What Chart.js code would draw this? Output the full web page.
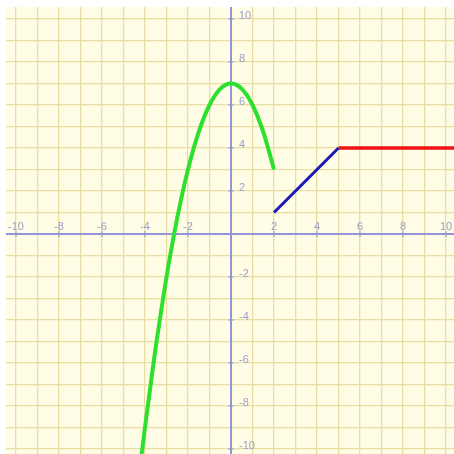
<!DOCTYPE html>
<html>
<head>
<meta charset="utf-8">
<script src="https://cdn.jsdelivr.net/npm/chart.js@4/dist/chart.umd.min.js"></script>
<style>
  html, body { margin: 0; padding: 0; background: #ffffff; }
  #graph { display: block; }
</style>
</head>
<body>
<canvas id="graph" width="454" height="454"></canvas>
<script>
// piecewise function
const greenX = [-4.2, -4, -3.75, -3.5, -3.25, -3, -2.5, -2, -1.5, -1, -0.5, 0, 0.5, 1, 1.5, 2];
const greenY = [-10.6, -9, -7.1, -5.25, -3.6, -2, 0.75, 3, 4.75, 6, 6.75, 7, 6.75, 6, 4.75, 3];
const blueX = [2, 5];
const blueY = [1, 4];
const redX = [5, 10.6];
const redY = [4, 4];

const xLabels = [-10, -8, -6, -4, -2, 2, 4, 6, 8, 10];
const yLabels = [10, 8, 6, 4, 2, -2, -4, -6, -8, -10];

function toPoints(xs, ys) {
    return xs.map((x, i) => ({ x: x, y: ys[i] }));
}

// cream paper behind the grid
const paperPlugin = {
    id: "paper",
    beforeDraw(chart) {
        const { ctx, chartArea } = chart;
        ctx.save();
        ctx.fillStyle = "#fffde6";
        ctx.fillRect(chartArea.left, chartArea.top, chartArea.right - chartArea.left, chartArea.bottom - chartArea.top);
        ctx.restore();
    }
};

// axes through the origin with their labels
const axesPlugin = {
    id: "centerAxes",
    beforeDatasetsDraw(chart) {
        const { ctx, chartArea, scales } = chart;
        const x0 = Math.round(scales.x.getPixelForValue(0));
        const y0 = Math.round(scales.y.getPixelForValue(0));
        ctx.save();
        ctx.fillStyle = "#9494d8";
        ctx.fillRect(chartArea.left, y0 - 1, chartArea.right - chartArea.left, 2);
        ctx.fillRect(x0 - 1, chartArea.top, 2, chartArea.bottom - chartArea.top);

        ctx.strokeStyle = "#9494d8";
        ctx.fillStyle = "#9c9cc8";
        ctx.font = "11px 'Liberation Sans', Arial, sans-serif";
        ctx.lineWidth = 1;
        ctx.textAlign = "center";
        ctx.textBaseline = "middle";
        xLabels.forEach(v => {
            const px = scales.x.getPixelForValue(v);
            ctx.beginPath();
            ctx.moveTo(px, y0 - 3);
            ctx.lineTo(px, y0 + 3);
            ctx.stroke();
            ctx.fillText(String(v), px, y0 - 7);
        });
        ctx.textAlign = "left";
        yLabels.forEach(v => {
            const py = scales.y.getPixelForValue(v);
            ctx.beginPath();
            ctx.moveTo(x0 - 3, py);
            ctx.lineTo(x0 + 3, py);
            ctx.stroke();
            ctx.fillText(String(v), x0 + 8, py - 3);
        });
        ctx.restore();
    }
};

const gridScale = (min, max) => ({
    type: "linear",
    min: min,
    max: max,
    ticks: { display: false, stepSize: 1, includeBounds: false },
    grid: {
        // no paper line under the axis itself
        color: c => (c.tick && Math.abs(c.tick.value) < 1e-9 ? "rgba(0,0,0,0)" : "#e8dda2"),
        lineWidth: 1.3,
        drawTicks: false
    },
    border: { display: false }
});

const ctx = document.getElementById("graph").getContext("2d");
new Chart(ctx, {
    type: "line",
    data: {
        datasets: [
            { data: toPoints(greenX, greenY), borderColor: "#2ee02e", borderWidth: 4, cubicInterpolationMode: "monotone" },
            { data: toPoints(blueX, blueY), borderColor: "#1a1ab8", borderWidth: 3 },
            { data: toPoints(redX, redY), borderColor: "#ee1212", borderWidth: 3.5 }
        ]
    },
    options: {
        responsive: false,
        animation: false,
        layout: { padding: { left: 6, top: 7, right: 0, bottom: 0 } },
        elements: { point: { radius: 0 } },
        plugins: { legend: { display: false }, tooltip: { enabled: false } },
        scales: {
            x: gridScale(-10.465, 10.372),
            y: gridScale(-10.233, 10.558)
        }
    },
    plugins: [paperPlugin, axesPlugin]
});
</script>
</body>
</html>
